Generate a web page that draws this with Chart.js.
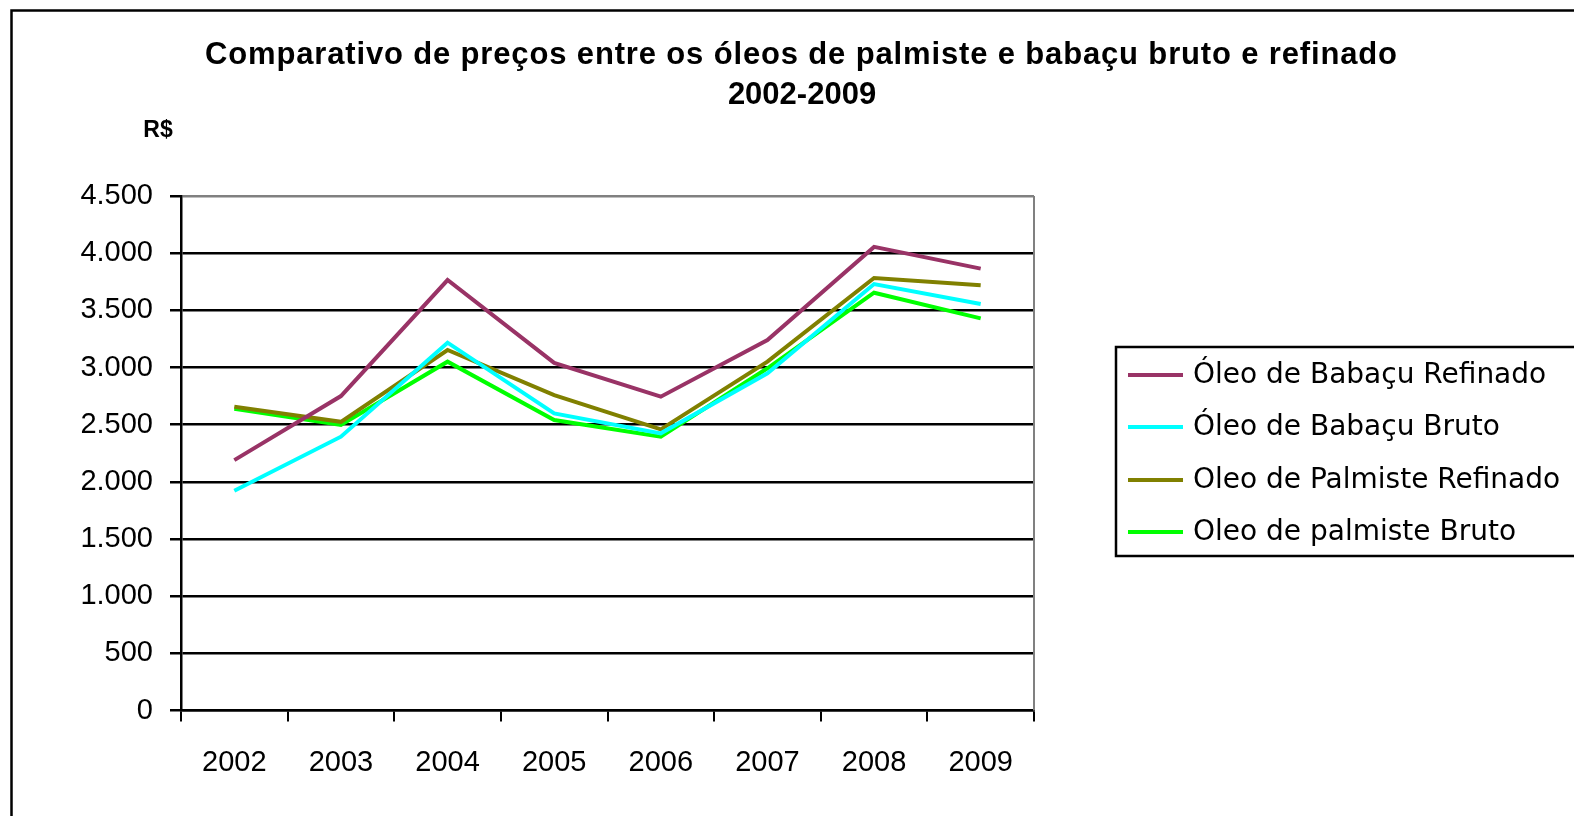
<!DOCTYPE html>
<html>
<head>
<meta charset="utf-8">
<script src="https://cdn.jsdelivr.net/npm/chart.js@4/dist/chart.umd.min.js"></script>
<style>
html,body{margin:0;padding:0;background:#fff;overflow:hidden;}
#wrap{position:absolute;left:0;top:0;width:1574px;height:816px;}
</style>
</head>
<body>
<div id="wrap"><canvas id="c" width="1574" height="816"></canvas></div>
<script>
const categories = ['2002','2003','2004','2005','2006','2007','2008','2009'];
const babacuRefinado = [2190, 2750, 3765, 3040, 2745, 3240, 4055, 3865];
const babacuBruto    = [1922, 2395, 3217, 2599, 2424, 2949, 3730, 3555];
const palmisteRefinado = [2657, 2525, 3153, 2759, 2459, 3051, 3783, 3719];
const palmisteBruto  = [2640, 2497, 3051, 2541, 2395, 2993, 3654, 3430];
const seriesNames = ['Óleo de Babaçu Refinado','Óleo de Babaçu Bruto','Oleo de Palmiste Refinado','Oleo de palmiste Bruto'];
const seriesColors = ['#993366','#00FFFF','#808000','#00FF00'];
const titleLines = ['Comparativo de preços entre os óleos de palmiste e babaçu bruto e refinado','2002-2009'];
const yAxisLabel = 'R$';
const yTicks = {min:0, max:4500, step:500};

const seriesData = [babacuRefinado, babacuBruto, palmisteRefinado, palmisteBruto];

function fitText(ctx, text, x, y, targetW){
  ctx.letterSpacing='0px';
  const w = ctx.measureText(text).width;
  const n = Array.from(text).length;
  const ls = Math.max(0,(targetW - w)/n);
  ctx.letterSpacing = ls.toFixed(2)+'px';
  ctx.fillText(text, x + ls/2, y);
  ctx.letterSpacing='0px';
}

const decorPlugin = {
  id:'decor',
  beforeDraw(chart){
    const ctx = chart.ctx;
    ctx.save();
    ctx.fillStyle='#fff';
    ctx.fillRect(0,0,chart.width,chart.height);
    ctx.restore();
  },
  afterDraw(chart){
    const ctx = chart.ctx;
    const a = chart.chartArea;
    ctx.save();
    // outer frame
    ctx.strokeStyle='#000'; ctx.lineWidth=2.5;
    ctx.strokeRect(11.5,10.5,1700,900);
    // plot right border
    ctx.strokeStyle='#808080'; ctx.lineWidth=2;
    ctx.beginPath(); ctx.moveTo(a.right, a.top); ctx.lineTo(a.right, a.bottom); ctx.stroke();
    // title
    ctx.fillStyle='#000';
    ctx.textAlign='center'; ctx.textBaseline='middle';
    ctx.font='bold 31px "Liberation Sans", Arial, sans-serif';
    fitText(ctx, titleLines[0], 801, 55, 1193);
    fitText(ctx, titleLines[1], 802, 95, 144);
    // y label
    ctx.font='bold 23px "Liberation Sans", Arial, sans-serif';
    fitText(ctx, yAxisLabel, 158, 131, 30);
    // legend
    ctx.strokeStyle='#000'; ctx.lineWidth=2.5;
    ctx.strokeRect(1116, 347, 600, 209);
    ctx.font='28px "DejaVu Sans", sans-serif';
    ctx.textAlign='left';
    const ys=[375,427,480,532];
    chart.data.datasets.forEach((ds,i)=>{
      ctx.strokeStyle=ds.borderColor; ctx.lineWidth=4;
      ctx.beginPath(); ctx.moveTo(1128, ys[i]); ctx.lineTo(1183, ys[i]); ctx.stroke();
      ctx.fillStyle='#000';
      ctx.fillText(ds.label, 1193, ys[i]+1);
    });
    ctx.restore();
  }
};

new Chart(document.getElementById('c'), {
  type:'line',
  data:{
    labels:categories,
    datasets: seriesData.map((d,i)=>({
      label:seriesNames[i], data:d, borderColor:seriesColors[i], backgroundColor:seriesColors[i],
      borderWidth:4, pointRadius:0, tension:0, fill:false
    }))
  },
  options:{
    responsive:false, animation:false, devicePixelRatio:1,
    layout:{padding:{left:0, right:540, top:196, bottom:0}},
    plugins:{legend:{display:false}, title:{display:false}, tooltip:{enabled:false}},
    scales:{
      x:{
        offset:true,
        grid:{offset:true, drawOnChartArea:false, drawTicks:true, tickLength:11, color:'#000', lineWidth:2},
        border:{display:true, color:'#000', width:2.5},
        ticks:{color:'#000', padding:24, font:{family:'"Liberation Sans", Arial, sans-serif', size:29}, maxRotation:0},
        afterFit(s){ s.height = 105.5; }
      },
      y:{
        min:yTicks.min, max:yTicks.max,
        grid:{color:(c)=> c.tick && c.tick.value===yTicks.max ? '#808080' : '#000', lineWidth:2.5, tickLength:11, tickColor:'#000'},
        border:{display:true, color:'#000', width:2.5},
        ticks:{stepSize:yTicks.step, color:'#000', padding:17,
          font:{family:'"Liberation Sans", Arial, sans-serif', size:29},
          callback:(v)=> v.toLocaleString('de-DE')},
        afterFit(s){ s.width = 181; }
      }
    }
  },
  plugins:[decorPlugin]
});
</script>
</body>
</html>
